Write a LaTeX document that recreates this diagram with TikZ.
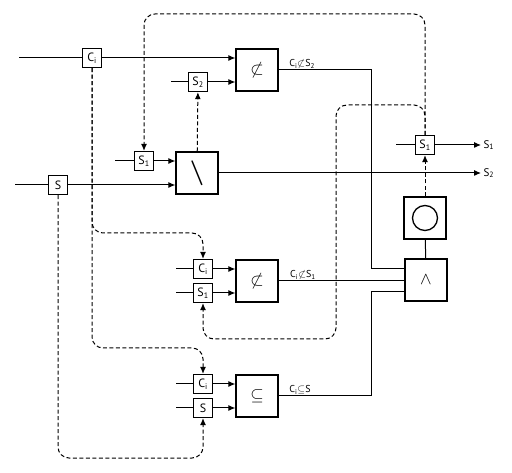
\documentclass[tikz,border=0pt]{standalone}
\usepackage{amsmath}
\usepackage{amssymb}
\usepackage{fontspec}
\setmainfont{PT Sans}
\usetikzlibrary{arrows.meta}

\begin{document}
\begin{tikzpicture}[x=1pt, y=-1pt,
reg/.style={rectangle, draw=black, line width=1.3pt, minimum size=19pt, inner sep=0pt, font=\fontsize{12}{12}\selectfont},
gate/.style={rectangle, draw=black, line width=1.3pt, minimum size=42pt, inner sep=0pt},
wire/.style={line width=1pt},
flow/.style={line width=1pt, -{Latex[length=7pt, width=6pt]}},
ctrl/.style={line width=1pt, dash pattern=on 4pt off 2.5pt, rounded corners=11pt, -{Latex[length=7pt, width=6pt]}},
tag/.style={font=\fontsize{10}{10}\selectfont, inner sep=1pt, anchor=south west},
outlabel/.style={font=\fontsize{11}{11}\selectfont, anchor=west, inner sep=2pt},
]
\useasboundingbox (0,0) rectangle (512,473);

% registers
\node [reg] (Ci1) at (92,58) {C\textsubscript{i}};
\node [reg] (S2) at (198,82) {S\textsubscript{2}};
\node [reg] (S1a) at (144,161) {S\textsubscript{1}};
\node [reg] (S) at (58,185) {S};
\node [reg] (S1out) at (425,145) {S\textsubscript{1}};
\node [reg] (Ci2) at (203,269) {C\textsubscript{i}};
\node [reg] (S1b) at (203,293) {S\textsubscript{1}};
\node [reg] (Ci3) at (203,384) {C\textsubscript{i}};
\node [reg] (S3) at (203,408) {S};

% gates
\node [gate] (NS2) at (257,70) {\LARGE$\not\subset$};
\node [gate] (Diff) at (197,173) {\fontsize{28}{28}\selectfont$\boldsymbol{\setminus}$};
\node [gate] (NS1) at (257,281) {\LARGE$\not\subset$};
\node [gate] (Sub) at (257,396) {\LARGE$\subseteq$};
\node [gate] (Circ) at (425,218) {};
\node [gate] (And) at (426,280) {\LARGE$\wedge$};
\draw [line width=1.3pt] (Circ.center) circle (12.5);

% free ends
\coordinate (inCi) at (19,58);
\coordinate (inS2) at (171,82);
\coordinate (inS1) at (115,161);
\coordinate (inS) at (15,185);
\coordinate (inS1out) at (396,145);
\coordinate (inCi2) at (176,269);
\coordinate (inS1b) at (176,293);
\coordinate (inCi3) at (176,384);
\coordinate (inS3) at (176,408);
\coordinate (endS1) at (481,145);
\coordinate (endS2) at (481,173);

% data wires
\draw [wire] (inCi) -- (Ci1);
\draw [flow] (Ci1) -- (NS2.west |- Ci1);
\draw [wire] (inS2) -- (S2);
\draw [flow] (S2) -- (NS2.west |- S2);
\draw [wire] (inS1) -- (S1a);
\draw [flow] (S1a) -- (Diff.west |- S1a);
\draw [wire] (inS) -- (S);
\draw [flow] (S) -- (Diff.west |- S);
\draw [flow] (Diff) -- (endS2) node [outlabel] {S\textsubscript{2}};
\draw [wire] (inS1out) -- (S1out);
\draw [flow] (S1out) -- (endS1) node [outlabel] {S\textsubscript{1}};
\foreach \r/\g in {Ci2/NS1, S1b/NS1, Ci3/Sub, S3/Sub} {
	\draw [wire] (in\r) -- (\r);
	\draw [flow] (\r) -- (\g.west |- \r);
}

% results into the and gate
\draw [wire] (NS2.east) -- node [tag, pos=0.1] {C\textsubscript{i}$\not\subset$S\textsubscript{2}}
	(371,70) -- (371,269) -- (And.west |- 0,269);
\draw [wire] (NS1.east) -- node [tag, pos=0.08] {C\textsubscript{i}$\not\subset$S\textsubscript{1}}
	(And.west |- NS1.east);
\draw [wire] (Sub.east) -- node [tag, pos=0.1] {C\textsubscript{i}$\subseteq$S}
	(371,396) -- (371,292) -- (And.west |- 0,292);
\draw [wire] (Circ) -- (And);

% control lines
\draw [ctrl] (Diff) -- (S2);
\draw [ctrl] (Circ) -- (S1out);
\draw [ctrl] (S1out.north) -- (425,14) -- (144,14) -- (S1a.north);
\draw [ctrl] (S1out.north) -- (425,105) -- (336,105) -- (336,339) -- (203,339) -- (S1b.south);
\draw [ctrl] (Ci1.south) -- (92,233) -- (203,233) -- (Ci2.north);
\draw [ctrl] (Ci1.south) -- (92,348) -- (203,348) -- (Ci3.north);
\draw [ctrl] (S.south) -- (58,458) -- (203,458) -- (S3.south);
\end{tikzpicture}
\end{document}
